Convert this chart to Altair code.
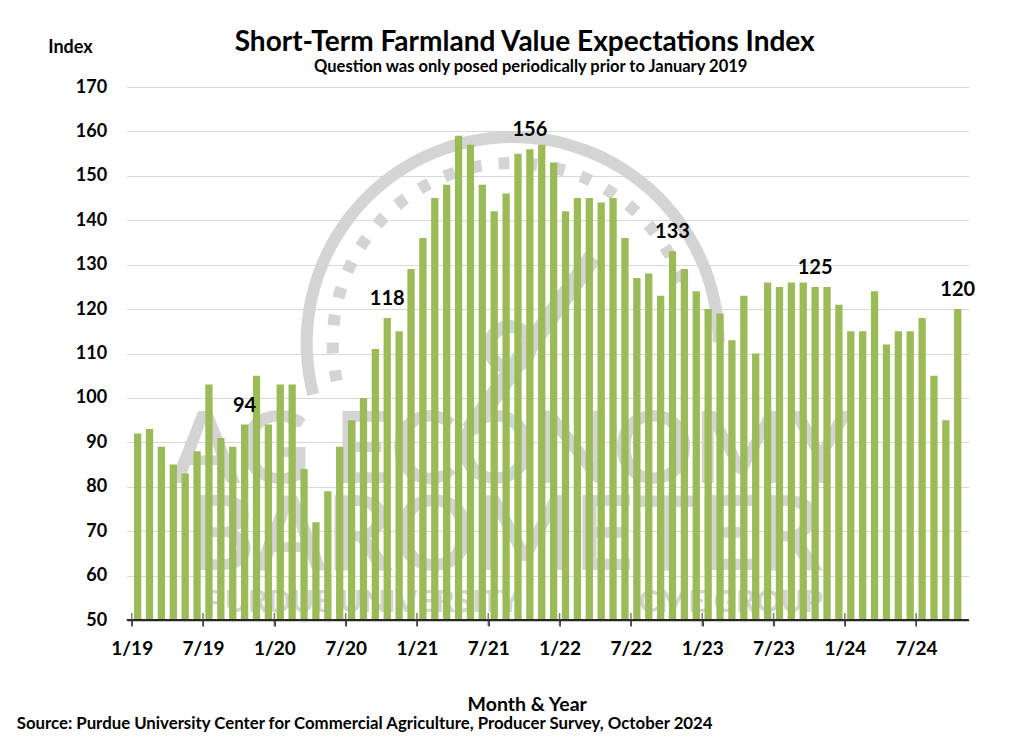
import altair as alt
import pandas as pd

# ---- data ----
values_2019 = [92, 93, 89, 85, 83, 88, 103, 91, 89, 94, 105, 94]
values_2020 = [103, 103, 84, 72, 79, 89, 95, 100, 111, 118, 115, 129]
values_2021 = [136, 145, 148, 159, 157, 148, 142, 146, 155, 156, 157, 153]
values_2022 = [142, 145, 145, 144, 145, 136, 127, 128, 123, 133, 129, 124]
values_2023 = [120, 119, 113, 123, 110, 126, 125, 126, 126, 125, 125, 121]
values_2024 = [115, 115, 124, 112, 115, 115, 118, 105, 95, 120]
values = values_2019 + values_2020 + values_2021 + values_2022 + values_2023 + values_2024

months = [f"{m}/{y}" for y in range(19, 25) for m in range(1, 13)][:len(values)]
labeled_months = ["10/19", "10/20", "10/21", "10/22", "10/23", "10/24"]
tick_labels = ["1/19", "7/19", "1/20", "7/20", "1/21", "7/21", "1/22", "7/22",
               "1/23", "7/23", "1/24", "7/24"]
y_ticks = [50, 60, 70, 80, 90, 100, 110, 120, 130, 140, 150, 160, 170]

df = pd.DataFrame({"month": months, "value": values})
df["pos"] = [i + 0.5 for i in range(len(values))]
tick_pos = [i * 6 for i in range(len(tick_labels))]
ticks_df = pd.DataFrame({"pos": tick_pos})

FONT = "Lato"
GREEN = "#9BBB59"
WM = "#d4d4d4"
W, H = 842, 533

label_expr = "[" + ",".join(f"'{t}'" for t in tick_labels) + "][round(datum.value/6)]"

xscale = alt.Scale(domain=[0, len(values)], nice=False, zero=False)
yscale = alt.Scale(domain=[50, 170], nice=False, zero=False)

x_axis = alt.Axis(values=tick_pos, labelExpr=label_expr, ticks=True, tickSize=6,
                  tickColor="#404040", tickWidth=1.5,
                  grid=False, domain=True, domainColor="#262626", domainWidth=1.5,
                  labelFont=FONT, labelFontSize=19, labelFontWeight="bold",
                  labelColor="#000000", labelPadding=13, labelFlush=False,
                  title="Month & Year", titleFont=FONT, titleFontSize=19.5,
                  titleFontWeight="bold", titleColor="#000000",
                  titleX=400, titleY=90, titleAlign="center",
                  titleBaseline="alphabetic")
y_axis = alt.Axis(values=y_ticks, ticks=False, domain=False,
                  gridColor="#d9d9d9", gridWidth=1,
                  labelFont=FONT, labelFontSize=18, labelFontWeight="bold",
                  labelColor="#000000", labelPadding=20,
                  title="Index", titleFont=FONT, titleFontSize=18,
                  titleFontWeight="bold", titleColor="#000000", titleAngle=0,
                  titleX=-79, titleY=-35, titleAlign="left",
                  titleBaseline="alphabetic")

one = pd.DataFrame({"a": [0]})

# ---- watermark (decoration) ----
wm_arc = alt.Chart(one).mark_arc(radius=212, radius2=200, theta=4.46, theta2=7.85,
                                 color=WM).encode(x=alt.value(386), y=alt.value(256))
wm_dots = alt.Chart(alt.sequence(0, 20, as_="i")).transform_calculate(
    t="4.5 + datum.i*0.155", t2="4.5 + datum.i*0.155 + 0.06"
).mark_arc(radius=186, radius2=174, color=WM).encode(
    theta=alt.Theta("t:Q", scale=None, stack=None), theta2="t2:Q",
    x=alt.value(386), y=alt.value(256))
wm_ring = alt.Chart(one).mark_arc(radius=27, radius2=14, theta=0, theta2=6.2832,
                                  color=WM).encode(x=alt.value(383), y=alt.value(260))
wm_needle = alt.Chart(one).mark_rule(strokeWidth=18, color=WM).encode(
    x=alt.value(343), y=alt.value(343), x2=alt.value(466), y2=alt.value(170))
wm_t1 = alt.Chart(one).mark_text(font=FONT, fontWeight="bold", fontSize=100, color=WM,
                                 align="center", baseline="alphabetic").encode(
    x=alt.value(385), y=alt.value(396), text=alt.value("AG ECONOMY"))
wm_t2 = alt.Chart(one).mark_text(font=FONT, fontWeight="bold", fontSize=104, color=WM,
                                 align="center", baseline="alphabetic").encode(
    x=alt.value(378), y=alt.value(483), text=alt.value("BAROMETER"))
wm_t3 = alt.Chart(one).mark_text(font=FONT, fontWeight="bold", fontSize=31, color=WM,
                                 align="center", baseline="alphabetic").encode(
    x=alt.value(236), y=alt.value(525), text=alt.value("PURDUE UNIVERSITY"))
wm_t4 = alt.Chart(one).mark_text(font=FONT, fontWeight="bold", fontSize=31, color=WM,
                                 align="center", baseline="alphabetic").encode(
    x=alt.value(604), y=alt.value(525), text=alt.value("CME GROUP"))

# ---- bars ----
bars = alt.Chart(df).mark_bar(size=7.3, color=GREEN).encode(
    x=alt.X("pos:Q", scale=xscale, axis=x_axis),
    y=alt.Y("value:Q", scale=yscale, axis=y_axis),
    y2=alt.datum(50),
)

labels = alt.Chart(df).transform_filter(
    alt.FieldOneOfPredicate(field="month", oneOf=labeled_months)
).mark_text(font=FONT, fontSize=20, fontWeight="bold", color="#000000",
            baseline="alphabetic", dy=-13).encode(
    x=alt.X("pos:Q", scale=xscale, axis=x_axis),
    y=alt.Y("value:Q", scale=yscale, axis=y_axis),
    text=alt.Text("value:Q"))

# x-axis baseline (drawn as a thin rect) and cross-shaped ticks
axis_line = alt.Chart(one).mark_rect(color="#262626").encode(
    x=alt.value(0), x2=alt.value(W), y=alt.value(H - 1), y2=alt.value(H + 0.5))
tick_marks = alt.Chart(ticks_df).mark_tick(color="#404040", thickness=1.5,
                                           size=13, orient="vertical").encode(
    x=alt.X("pos:Q", scale=xscale, axis=x_axis),
    y=alt.value(H - 0.5))

title = alt.Chart(one).mark_text(font=FONT, fontSize=28, fontWeight="bold",
                                 color="#000000", align="center",
                                 baseline="alphabetic").encode(
    x=alt.value(398), y=alt.value(-36),
    text=alt.value("Short-Term Farmland Value Expectations Index"))
subtitle = alt.Chart(one).mark_text(font=FONT, fontSize=16.5, fontWeight="bold",
                                    color="#000000", align="center",
                                    baseline="alphabetic").encode(
    x=alt.value(404), y=alt.value(-15),
    text=alt.value("Question was only posed periodically prior to January 2019"))
source = alt.Chart(one).mark_text(font=FONT, fontSize=16.8, fontWeight="bold",
                                  color="#000000", align="left",
                                  baseline="alphabetic").encode(
    x=alt.value(-110), y=alt.value(642),
    text=alt.value("Source: Purdue University Center for Commercial Agriculture, "
                   "Producer Survey, October 2024"))

chart = alt.layer(
    wm_arc, wm_dots, wm_ring, wm_needle, wm_t1, wm_t2, wm_t3, wm_t4,
    bars, labels, axis_line, tick_marks, title, subtitle, source
).properties(
    width=W, height=H,
    autosize=alt.AutoSizeParams(type="none"),
    padding={"left": 118.7, "top": 79, "right": 47.3, "bottom": 115},
    background="#ffffff",
).configure_view(stroke="transparent")

chart.save("out.html", embed_options={"renderer": "svg", "actions": False})
